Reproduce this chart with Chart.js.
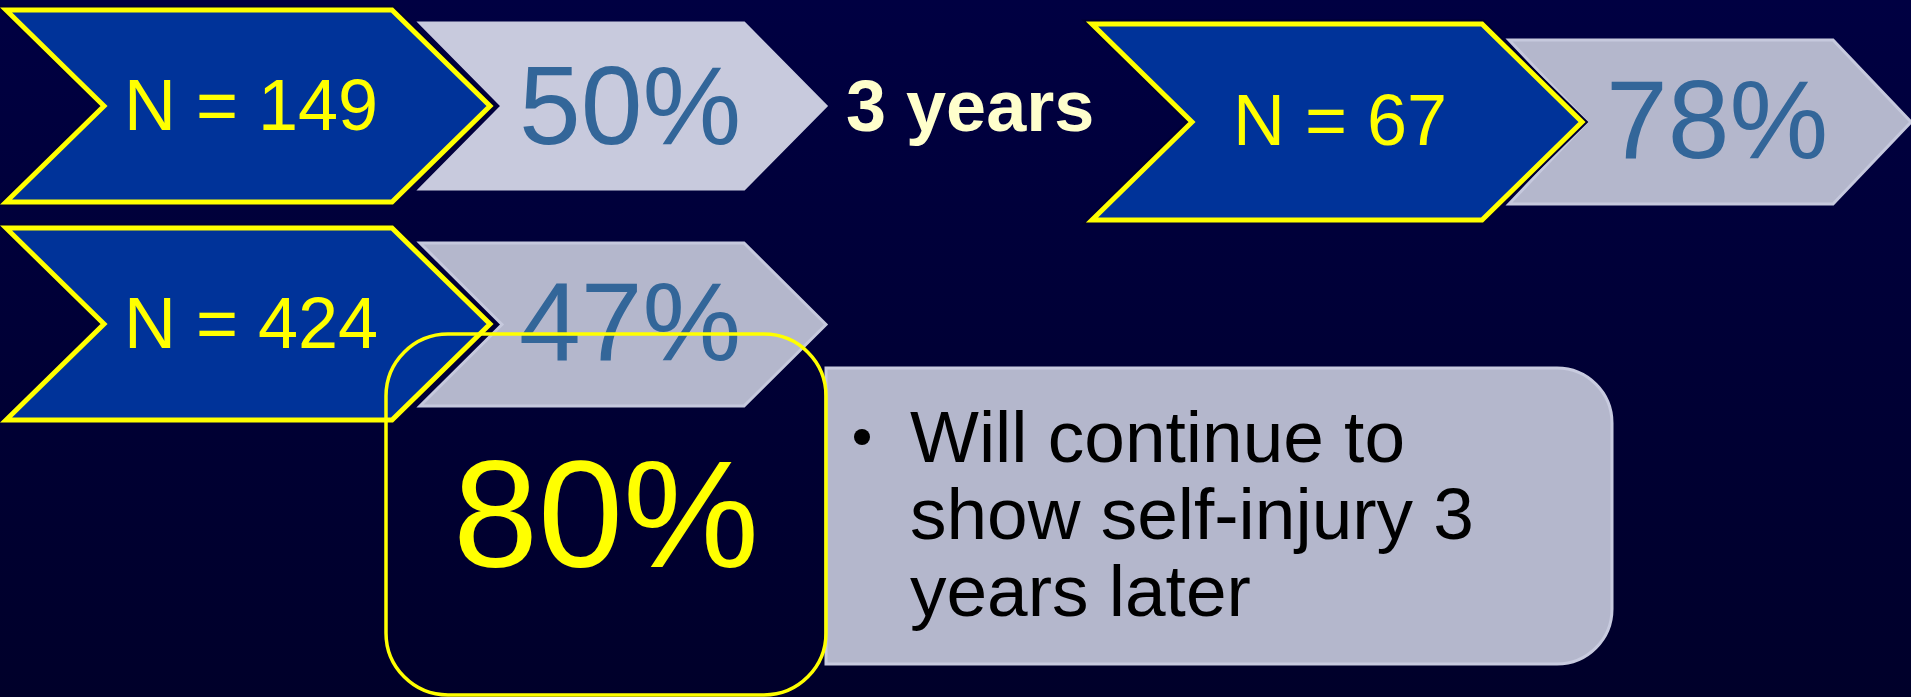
<!DOCTYPE html>
<html lang="en">
<head>
  <meta charset="UTF-8">
  <title>Self-injury at 3 years</title>
  <script src="https://cdn.jsdelivr.net/npm/chart.js"></script>
  <style>
    html, body { margin: 0; padding: 0; background: #000038; overflow: hidden; }
    canvas { display: block; }
  </style>
</head>
<body>
  <canvas id="slide" width="1911" height="697"></canvas>

  <script>
    // data
    const sampleSizes = [149, 424, 67];
    const persistPct = [50, 47, 78];
    const overallPct = 80;
    const gapLabel = '3 years';
    const noteLines = ['Will continue to', 'show self-injury 3', 'years later'];

    // layout in slide units (x 0..1911, y 0..697 top-down)
    const blueBoxes = [
      { l: 6, r: 490, t: 10, b: 202, d: 98, ty: 130 },
      { l: 6, r: 490, t: 228, b: 420, d: 98, ty: 348 },
      { l: 1092, r: 1582, t: 24, b: 220, d: 100, ty: 145 }
    ];
    const greyBoxes = [
      { l: 420, r: 826, t: 23, b: 189, d: 82, ty: 144, fill: '#c8cadd', edge: '#c8cadd' },
      { l: 420, r: 826, t: 243, b: 406, d: 82, ty: 360, fill: '#b4b7cc', edge: '#c6c9dd' },
      { l: 1509, r: 1911, t: 40, b: 204, d: 78, ty: 158, fill: '#b4b7cc', edge: '#c6c9dd' }
    ];

    const drawSlide = {
      id: 'drawSlide',
      beforeDraw(chart) {
        const { ctx, chartArea } = chart;
        const g = ctx.createLinearGradient(0, chartArea.top, 0, chartArea.bottom);
        g.addColorStop(0, '#000042');
        g.addColorStop(1, '#00002a');
        ctx.fillStyle = g;
        ctx.fillRect(0, 0, chart.width, chart.height);
      },
      afterDatasetsDraw(chart) {
        const { ctx } = chart;
        const sx = chart.scales.x, sy = chart.scales.y;
        const X = v => sx.getPixelForValue(v);
        const Y = v => sy.getPixelForValue(v);

        function chevron(c) {
          const m = (c.t + c.b) / 2;
          ctx.beginPath();
          ctx.moveTo(X(c.l), Y(c.t));
          ctx.lineTo(X(c.r - c.d), Y(c.t));
          ctx.lineTo(X(c.r), Y(m));
          ctx.lineTo(X(c.r - c.d), Y(c.b));
          ctx.lineTo(X(c.l), Y(c.b));
          ctx.lineTo(X(c.l + c.d), Y(m));
          ctx.closePath();
        }

        // grey result chevrons
        greyBoxes.forEach((c, i) => {
          chevron(c);
          ctx.fillStyle = c.fill;
          ctx.fill();
          ctx.lineWidth = 3;
          ctx.strokeStyle = c.edge;
          ctx.stroke();
          ctx.fillStyle = '#336699';
          ctx.font = '111px "Liberation Sans", Arial, sans-serif';
          ctx.textAlign = 'center';
          ctx.textBaseline = 'alphabetic';
          ctx.fillText(persistPct[i] + '%', X((c.l + c.r) / 2 + 7), Y(c.ty));
        });

        // blue sample chevrons
        blueBoxes.forEach((c, i) => {
          chevron(c);
          ctx.lineWidth = 9;
          ctx.strokeStyle = '#000030';
          ctx.stroke();
          ctx.fillStyle = '#003399';
          ctx.fill();
          ctx.lineWidth = 5;
          ctx.strokeStyle = '#ffff00';
          ctx.stroke();
          ctx.fillStyle = '#ffff00';
          ctx.font = '72px "Liberation Sans", Arial, sans-serif';
          ctx.textAlign = 'center';
          ctx.fillText('N = ' + sampleSizes[i], X((c.l + c.d + c.r - c.d) / 2 + 3), Y(c.ty));
        });

        // 3 years
        ctx.fillStyle = '#ffffcc';
        ctx.font = 'bold 72px "Liberation Sans", Arial, sans-serif';
        ctx.textAlign = 'left';
        ctx.fillText(gapLabel, X(846), Y(131));

        // grey note box, square left, rounded right
        ctx.beginPath();
        ctx.roundRect(X(826), Y(368), X(1612) - X(826), Y(664) - Y(368), [0, 55, 55, 0]);
        ctx.fillStyle = '#b4b7cc';
        ctx.fill();
        ctx.lineWidth = 3;
        ctx.strokeStyle = '#c8cbdf';
        ctx.stroke();

        ctx.fillStyle = '#000000';
        ctx.font = '73px "Liberation Sans", Arial, sans-serif';
        ctx.textAlign = 'left';
        const baselines = [462, 539, 616];
        noteLines.forEach((t, i) => ctx.fillText(t, X(910), Y(baselines[i])));
        ctx.beginPath();
        ctx.arc(X(862), Y(437), 8, 0, Math.PI * 2);
        ctx.fill();

        // yellow rounded frame with overall figure
        ctx.beginPath();
        ctx.roundRect(X(386), Y(334), X(826) - X(386), Y(695) - Y(334), 62);
        ctx.lineWidth = 3.5;
        ctx.strokeStyle = '#ffff00';
        ctx.stroke();
        ctx.fillStyle = '#ffff00';
        ctx.font = '153px "Liberation Sans", Arial, sans-serif';
        ctx.textAlign = 'center';
        ctx.fillText(overallPct + '%', X(606), Y(567));
      }
    };

    new Chart(document.getElementById('slide'), {
      type: 'scatter',
      data: { datasets: [{ data: [], pointRadius: 0 }] },
      options: {
        responsive: false,
        animation: false,
        devicePixelRatio: 1,
        layout: { padding: 0 },
        plugins: { legend: { display: false }, tooltip: { enabled: false } },
        scales: {
          x: { type: 'linear', min: 0, max: 1911, display: false },
          y: { type: 'linear', min: 0, max: 697, reverse: true, display: false }
        }
      },
      plugins: [drawSlide]
    });
  </script>
</body>
</html>
